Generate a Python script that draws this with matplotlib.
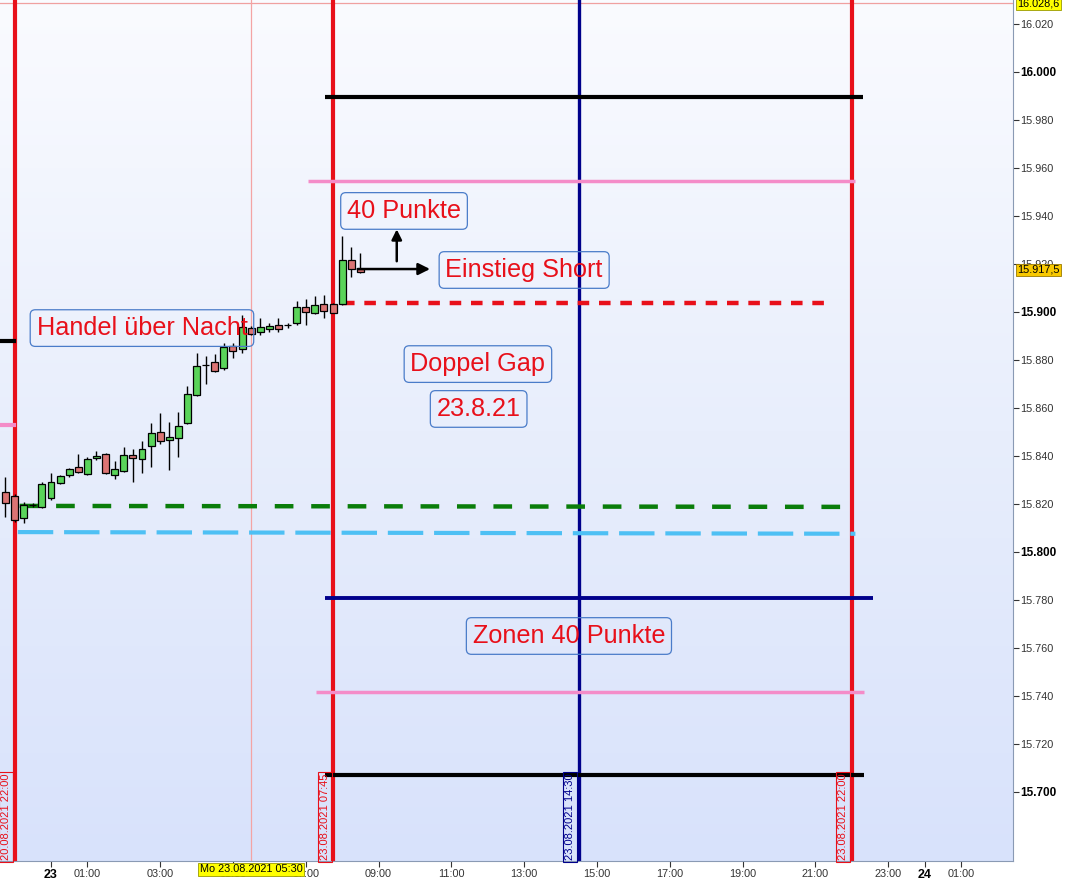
import numpy as np
import matplotlib.pyplot as plt
from matplotlib.colors import LinearSegmentedColormap
from matplotlib.transforms import blended_transform_factory

plt.rcParams['font.family'] = ['Liberation Sans', 'DejaVu Sans']

# 15-Minuten-Kerzen, erste Kerze Fr 20.08. 21:45, danach ab So 23:00 (Stunden relativ zu 23.08. 00:00)
first_slot = -1.25
slot_len = 0.25
opens = [15825.0, 15823.3, 15814.2, 15819.4, 15818.8, 15822.5, 15828.8, 15832.1, 15835.4, 15832.5,
         15839.2, 15840.8, 15832.1, 15833.8, 15840.4, 15838.8, 15844.2, 15850.0, 15846.7, 15847.5,
         15853.8, 15865.4, 15877.8, 15879.2, 15876.7, 15885.8, 15884.6, 15893.2, 15891.5, 15893.0,
         15894.5, 15894.6, 15895.3, 15902.0, 15899.5, 15903.3, 15903.3, 15903.3, 15921.7, 15917.9]
highs = [15831.2, 15824.0, 15821.0, 15820.6, 15829.0, 15832.9, 15832.0, 15835.0, 15840.8, 15839.7,
         15842.2, 15841.3, 15837.9, 15843.6, 15842.8, 15846.2, 15853.9, 15857.8, 15854.0, 15858.5,
         15869.2, 15882.8, 15881.8, 15882.5, 15887.0, 15887.0, 15898.8, 15894.0, 15897.4, 15895.3,
         15897.4, 15895.6, 15904.7, 15905.3, 15906.7, 15907.1, 15903.6, 15931.7, 15927.2, 15924.7]
lows = [15814.6, 15812.5, 15812.2, 15818.6, 15818.5, 15821.7, 15828.3, 15831.2, 15833.0, 15832.0,
        15838.3, 15832.5, 15830.3, 15833.5, 15829.2, 15832.9, 15835.3, 15844.9, 15834.2, 15839.4,
        15853.5, 15865.0, 15869.9, 15874.9, 15875.8, 15880.7, 15882.8, 15890.5, 15890.3, 15891.7,
        15891.8, 15893.2, 15894.6, 15894.6, 15899.3, 15897.6, 15899.5, 15903.0, 15914.7, 15916.3]
closes = [15820.4, 15813.3, 15819.6, 15819.6, 15828.3, 15829.2, 15831.7, 15834.6, 15833.3, 15838.8,
          15840.0, 15832.9, 15834.6, 15840.4, 15839.2, 15842.9, 15849.6, 15846.2, 15847.9, 15852.5,
          15865.8, 15877.5, 15877.8, 15875.4, 15885.4, 15883.8, 15893.8, 15890.8, 15893.9, 15894.0,
          15892.8, 15894.6, 15902.2, 15900.0, 15902.8, 15900.3, 15899.7, 15921.7, 15917.8, 15916.5]

# horizontale Linien: (Preis links, Preis rechts, Start h, Ende h)
zone_black_top = [15989.6, 15989.6, 7.54, 22.30]
zone_pink_top = [15954.6, 15954.6, 7.05, 22.10]
entry_red = [15903.8, 15903.8, 8.01, 21.30]
gap_green = [15819.2, 15818.8, -0.86, 21.73]
gap_lightblue = [15808.3, 15807.6, -0.91, 22.10]
zone_navy = [15780.8, 15780.8, 7.54, 22.58]
zone_pink_low = [15741.7, 15741.7, 7.27, 22.34]
zone_black_low = [15707.1, 15707.1, 7.54, 22.34]
left_black = 15887.9
left_pink = 15852.9
top_price = 16028.6
last_price = 15917.5

# vertikale Linien (Stunden)
v_red = [-1.0, 7.75, 22.0]
v_blue = 14.5
v_cursor = 5.5
v_labels = ['20.08.2021 22:00', '23.08.2021 07:45', '23.08.2021 14:30', '23.08.2021 22:00']

xtick_pos = [0, 1, 3, 5, 7, 9, 11, 13, 15, 17, 19, 21, 23, 24, 25]
xtick_lab = ['23', '01:00', '03:00', '05:00', '07:00', '09:00', '11:00', '13:00', '15:00',
             '17:00', '19:00', '21:00', '23:00', '24', '01:00']
ytick_pos = [15700, 15720, 15740, 15760, 15780, 15800, 15820, 15840, 15860, 15880, 15900,
             15920, 15940, 15960, 15980, 16000, 16020]

fig = plt.figure(figsize=(10.65, 8.8), dpi=100, facecolor='white')
ax = fig.add_axes([0, 19 / 880, 1013 / 1065, 861 / 880])
xmin, xmax = -1.40, 26.43
ymin, ymax = 15671.25, 16030.0
ax.set_xlim(xmin, xmax)
ax.set_ylim(ymin, ymax)

# Hintergrundverlauf
cmap = LinearSegmentedColormap.from_list('bg', ['#d8e2fb', '#e8eefc', '#fafbff'])
grad = np.linspace(0, 1, 256).reshape(-1, 1)
ax.imshow(grad, extent=[xmin, xmax, ymin, ymax], origin='lower', aspect='auto', cmap=cmap, zorder=0)

# Linien
ax.axhline(top_price, color='#f0a0a0', lw=0.9, zorder=1)
ax.axvline(v_cursor, color='#f4a4a4', lw=0.9, zorder=1)
for v in v_red:
    ax.axvline(v, color='#e8101a', lw=3.0, zorder=2)
ax.axvline(v_blue, color='#00008b', lw=2.4, zorder=2)

def hline(spec, **kw):
    ax.plot([spec[2], spec[3]], [spec[0], spec[1]], solid_capstyle='butt', **kw)

hline(zone_black_top, color='black', lw=3.0, zorder=3)
hline(zone_pink_top, color='#f48cc8', lw=2.5, zorder=3)
hline(entry_red, color='#e8101a', lw=3.2, ls=(0, (2.6, 2.2)), zorder=3)
hline(gap_green, color='#0a7d0a', lw=3.2, ls=(0, (4.2, 4.0)), zorder=3)
hline(gap_lightblue, color='#4ec0f4', lw=3.0, ls=(0, (8.5, 2.6)), zorder=3)
hline(zone_navy, color='#00008b', lw=2.8, zorder=3)
hline(zone_pink_low, color='#f48cc8', lw=2.5, zorder=3)
hline(zone_black_low, color='black', lw=3.0, zorder=3)
ax.plot([xmin, -1.02], [left_black, left_black], color='black', lw=3.0, zorder=3)
ax.plot([xmin, -1.02], [left_pink, left_pink], color='#f48cc8', lw=3.0, zorder=3)

# Kerzen
o = np.array(opens)
c = np.array(closes)
x = first_slot + slot_len * np.arange(len(o))
ax.vlines(x, lows, highs, color='black', lw=1.0, zorder=4)
cols = np.where(c >= o, '#5ad45a', '#dc7474')
ax.bar(x, np.abs(c - o), bottom=np.minimum(o, c), width=0.19, color=cols,
       edgecolor='black', linewidth=0.9, zorder=5)

# Pfeile
ax.annotate('', xy=(10.49, 15917.9), xytext=(8.35, 15917.9),
            arrowprops=dict(arrowstyle='-|>,head_length=0.7,head_width=0.35', color='black', lw=1.8),
            zorder=6)
ax.annotate('', xy=(9.5, 15935.6), xytext=(9.5, 15920.0),
            arrowprops=dict(arrowstyle='-|>,head_length=0.6,head_width=0.3', color='black', lw=1.8),
            zorder=6)

# Textboxen
box = dict(boxstyle='round,pad=0.25,rounding_size=0.2', fc='none', ec='#4a7cc9', lw=0.9)
txt = dict(color='#e8101a', fontsize=18.2, ha='center', va='center', zorder=7)
ax.text(2.5, 15893.3, 'Handel über Nacht', bbox=box, **txt)
ax.text(9.7, 15942.1, '40 Punkte', bbox=box, **txt)
ax.text(13.0, 15917.5, 'Einstieg Short', bbox=box, **txt)
ax.text(11.73, 15878.3, 'Doppel Gap', bbox=box, **txt)
ax.text(11.75, 15859.6, '23.8.21', bbox=box, **txt)
ax.text(14.23, 15765.0, 'Zonen 40 Punkte', bbox=box, **txt)

# Beschriftungen der vertikalen Linien
bt = blended_transform_factory(ax.transData, ax.transAxes)
for v, lab, col in zip(v_red[:2] + [v_blue] + v_red[2:], v_labels,
                       ['#e8101a', '#e8101a', '#00008b', '#e8101a']):
    ax.annotate(lab, xy=(v, 0), xycoords=bt, xytext=(-2.5, 0.5), textcoords='offset points',
                rotation=90, ha='right', va='bottom', fontsize=8, color=col, zorder=8,
                bbox=dict(boxstyle='square,pad=0.18', fc='none', ec=col, lw=0.8))

# Achsen
for s in ['left', 'top']:
    ax.spines[s].set_visible(False)
for s in ['right', 'bottom']:
    ax.spines[s].set_color('#8a9ab4')
ax.yaxis.tick_right()
ax.set_yticks(ytick_pos)
ax.set_yticklabels([f'{v/1000:.3f}' for v in ytick_pos])
ax.set_xticks(xtick_pos)
ax.set_xticklabels(xtick_lab)
ax.tick_params(axis='y', length=4, width=0.8, pad=1, labelsize=7.8, colors='#333333')
ax.tick_params(axis='x', length=4, width=0.8, pad=2, labelsize=7.8, colors='#333333')
for t in ax.get_yticklabels():
    if t.get_text() in ('16.000', '15.900', '15.800', '15.700'):
        t.set_fontweight('bold')
        t.set_fontsize(8.5)
        t.set_color('black')
for t in ax.get_xticklabels():
    if t.get_text() in ('23', '24'):
        t.set_fontweight('bold')
        t.set_fontsize(9)
        t.set_color('black')

by = blended_transform_factory(ax.transAxes, ax.transData)
ax.text(1.004, top_price, '16.028,6', transform=by, ha='left', va='center', fontsize=7.8,
        bbox=dict(boxstyle='square,pad=0.12', fc='#ffff00', ec='#9a9a00', lw=0.6), zorder=9,
        clip_on=False)
ax.text(1.004, last_price, '15.917,5', transform=by, ha='left', va='center', fontsize=7.8,
        bbox=dict(boxstyle='square,pad=0.12', fc='#f8c800', ec='#9a7a00', lw=0.6), zorder=9,
        clip_on=False)
ax.text(v_cursor, -0.004, 'Mo 23.08.2021 05:30', transform=bt, ha='center', va='top', fontsize=7.8,
        bbox=dict(boxstyle='square,pad=0.15', fc='#ffff00', ec='#9a9a00', lw=0.6), zorder=9,
        clip_on=False)

fig.savefig('out.png', dpi=100, facecolor='white')
